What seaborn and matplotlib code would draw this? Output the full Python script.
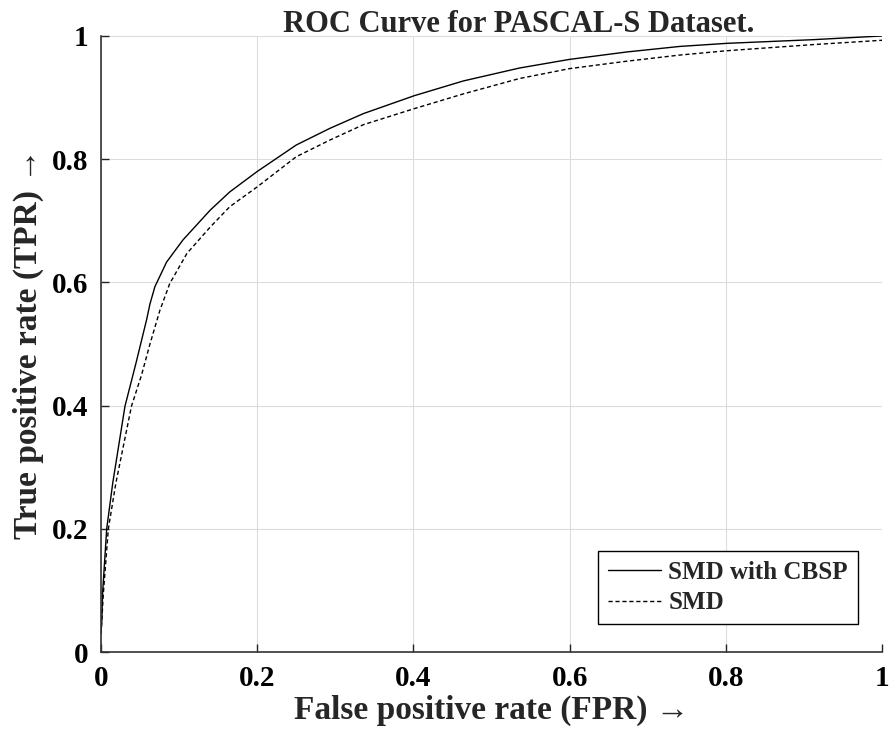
import matplotlib
matplotlib.use("Agg")
import matplotlib.pyplot as plt
import seaborn as sns
import pandas as pd

fpr_cbsp = [0.0, 0.001, 0.002, 0.0073, 0.015, 0.0307, 0.045, 0.0585, 0.0627, 0.069, 0.084, 0.105,
            0.14, 0.165, 0.2, 0.25, 0.293, 0.336, 0.401, 0.464, 0.536, 0.6, 0.673, 0.741, 0.801,
            0.912, 1.0]
tpr_cbsp = [0.03, 0.05, 0.095, 0.200, 0.274, 0.399, 0.470, 0.540, 0.565, 0.593, 0.633, 0.669,
            0.7175, 0.747, 0.780, 0.823, 0.850, 0.874, 0.903, 0.927, 0.948, 0.962, 0.974, 0.983,
            0.988, 0.994, 1.0]

fpr_smd = [0.0, 0.001, 0.003, 0.0094, 0.019, 0.039, 0.052, 0.0627, 0.0755, 0.088, 0.110, 0.14,
           0.165, 0.2, 0.25, 0.293, 0.336, 0.401, 0.464, 0.536, 0.6, 0.673, 0.741, 0.801,
           0.912, 1.0]
tpr_smd = [0.03, 0.05, 0.095, 0.200, 0.274, 0.399, 0.450, 0.500, 0.555, 0.598, 0.647, 0.690,
           0.723, 0.755, 0.804, 0.831, 0.856, 0.882, 0.906, 0.931, 0.947, 0.959, 0.969, 0.976,
           0.986, 0.993]

ticks = [0, 0.2, 0.4, 0.6, 0.8, 1]
tick_labels = ["0", "0.2", "0.4", "0.6", "0.8", "1"]

df = pd.concat([
    pd.DataFrame({"FPR": fpr_cbsp, "TPR": tpr_cbsp, "Method": "SMD with CBSP"}),
    pd.DataFrame({"FPR": fpr_smd, "TPR": tpr_smd, "Method": "SMD"}),
])

sns.set_style("white")
plt.rcParams['font.family'] = ['Liberation Serif', 'DejaVu Serif']
plt.rcParams['font.weight'] = 'bold'

fig = plt.figure(figsize=(8.93, 7.40), dpi=100)
ax = fig.add_axes([0.1131, 0.1189, 0.8746, 0.8325])

sns.lineplot(data=df, x="FPR", y="TPR", hue="Method", style="Method",
             palette={"SMD with CBSP": "black", "SMD": "black"},
             dashes={"SMD with CBSP": "", "SMD": (3, 2)},
             linewidth=1.0, sort=False, estimator=None, ax=ax, legend=True)

ax.set_xlim(0, 1)
ax.set_ylim(0, 1)
ax.set_xticks(ticks)
ax.set_xticklabels(tick_labels)
ax.set_yticks(ticks)
ax.set_yticklabels(tick_labels)
ax.grid(True, color="#dcdcdc", linewidth=0.8)
ax.set_axisbelow(True)
for s in ["top", "right"]:
    ax.spines[s].set_visible(False)
for s in ["left", "bottom"]:
    ax.spines[s].set_color("#333333")
    ax.spines[s].set_linewidth(1.2)
ax.tick_params(direction="in", length=6, width=1.0, colors="#222222",
               labelsize=21, left=True, bottom=True, pad=9)
for lab in ax.get_xticklabels() + ax.get_yticklabels():
    lab.set_fontweight("bold")
    lab.set_color("black")

ax.set_xlabel("False positive rate (FPR) \u2192", fontsize=24, fontweight="bold", labelpad=2)
ax.set_ylabel("True positive rate (TPR) \u2192", fontsize=24, fontweight="bold", labelpad=6)
ax.set_title("ROC Curve for PASCAL-S Dataset.", fontsize=22, fontweight="bold", pad=3, x=0.535)

leg = ax.legend(loc="lower right", bbox_to_anchor=(0.969, 0.045), borderaxespad=0,
                fancybox=False, framealpha=1, edgecolor="black",
                prop={"size": 18, "weight": "bold"},
                handlelength=2.1, borderpad=0.4, labelspacing=0.3, handletextpad=0.3)
leg.get_frame().set_linewidth(1.0)
leg.set_title(None)

fig.savefig("out.png", dpi=100)
